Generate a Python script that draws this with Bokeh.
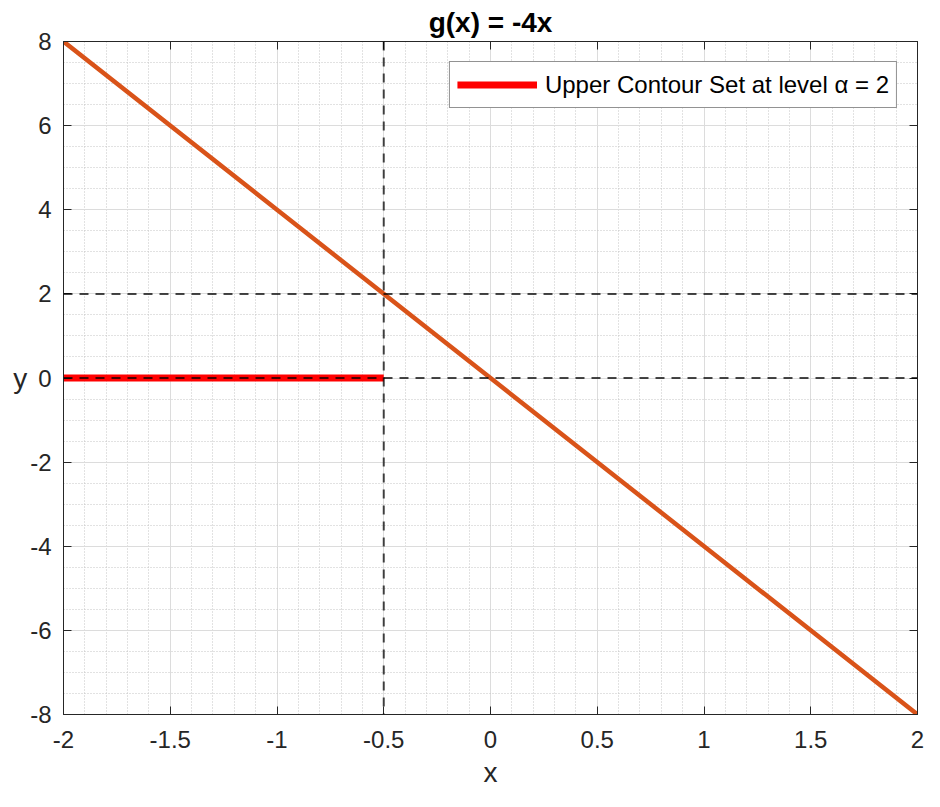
import numpy as np
from bokeh.plotting import figure
from bokeh.models import (Range1d, FixedTicker, LinearAxis, Legend, LegendItem, Span,
                          CustomLabelingPolicy)
from bokeh.embed import file_html
from bokeh.resources import INLINE

# ---- data ----
x_line = [-2.0, -1.0, 0.0, 1.0, 2.0]
g_line = [8.0, 4.0, 0.0, -4.0, -8.0]
contour_x = [-2.0, -0.5]
contour_y = [0.0, 0.0]
alpha_level = 2
x_cross = -0.5
x_ticks = [-2, -1.5, -1, -0.5, 0, 0.5, 1, 1.5, 2]
x_tick_labels = ["-2", "-1.5", "-1", "-0.5", "0", "0.5", "1", "1.5", "2"]
y_ticks = [-8, -6, -4, -2, 0, 2, 4, 6, 8]
y_tick_labels = ["-8", "-6", "-4", "-2", "0", "2", "4", "6", "8"]

FONT = "Liberation Sans"
AX = "#262626"

x_minor = list(np.round(np.linspace(-2, 2, 41), 3))
y_minor = list(np.round(np.linspace(-8, 8, 33), 3))

p = figure(width=924, height=791, output_backend="svg", toolbar_location=None,
           x_range=Range1d(-2, 2), y_range=Range1d(-8, 8),
           min_border_left=63, min_border_right=7, min_border_top=41, min_border_bottom=77)
p.background_fill_color = "white"
p.border_fill_color = "white"
p.outline_line_color = AX
p.outline_line_width = 1

p.title.text = "g(x) = -4x"
p.title.align = "center"
p.title.text_font = FONT
p.title.text_font_size = "28px"
p.title.text_font_style = "bold"
p.title.text_color = "black"
p.title.standoff = 0
p.title.offset = 0

xt = FixedTicker(ticks=x_ticks, minor_ticks=x_minor)
yt = FixedTicker(ticks=y_ticks, minor_ticks=y_minor)

for ax in p.xaxis:
    ax.ticker = xt
    ax.major_label_overrides = {t: l for t, l in zip(x_ticks, x_tick_labels)}
    ax.axis_label = "x"
    ax.axis_label_standoff = 6
for ax in p.yaxis:
    ax.ticker = yt
    ax.major_label_overrides = {t: l for t, l in zip(y_ticks, y_tick_labels)}
    ax.axis_label = "y"
    ax.axis_label_standoff = 0
    ax.axis_label_orientation = "horizontal"

for ax in list(p.xaxis) + list(p.yaxis):
    ax.axis_line_color = AX
    ax.major_tick_line_color = AX
    ax.major_tick_in = 8
    ax.major_tick_out = 0
    ax.minor_tick_line_color = None
    ax.major_label_text_font = FONT
    ax.major_label_text_font_size = "24px"
    ax.major_label_text_color = AX
    ax.axis_label_text_font = FONT
    ax.axis_label_text_font_size = "28px"
    ax.axis_label_text_font_style = "normal"
    ax.axis_label_text_color = AX
p.xaxis.major_label_standoff = 12
p.yaxis.major_label_standoff = 8

# top and right box axes (ticks only, no labels)
for loc, tk in (("above", xt), ("right", yt)):
    a = LinearAxis(ticker=tk)
    a.axis_line_color = AX
    a.major_tick_line_color = AX
    a.major_tick_in = 8
    a.major_tick_out = 0
    a.minor_tick_line_color = None
    a.major_label_standoff = 0
    a.major_label_text_font_size = "0px"
    a.major_label_policy = CustomLabelingPolicy(code="for (const i of indices) indices.unset(i)")
    p.add_layout(a, loc)

for g in (p.xgrid[0], p.ygrid[0]):
    g.grid_line_color = "#dcdcdc"
    g.grid_line_width = 1
    g.minor_grid_line_color = "#c4c4c4"
    g.minor_grid_line_dash = "1 2"
    g.minor_grid_line_width = 1

# contour set (red) first
red = p.line(contour_x, contour_y, line_color="#FF0000", line_width=7)

# dashed reference lines
for loc, dim in ((alpha_level, "width"), (0, "width"), (x_cross, "height")):
    p.add_layout(Span(location=loc, dimension=dim, line_color="black", line_alpha=0.72,
                      line_width=2, line_dash="9 7"))

p.line(x_line, g_line, line_color="#D95319", line_width=4.5)

legend = Legend(items=[LegendItem(label="Upper Contour Set at level α = 2", renderers=[red])],
                location="top_right")
legend.margin = 20
legend.padding = 7
legend.spacing = 0
legend.glyph_width = 80
legend.glyph_height = 31
legend.label_standoff = 8
legend.label_text_font = FONT
legend.label_text_font_size = "24px"
legend.label_text_color = "black"
legend.border_line_color = AX
legend.border_line_width = 1
legend.background_fill_alpha = 1
p.add_layout(legend, "center")

open("out.html", "w").write(file_html(p, INLINE))
